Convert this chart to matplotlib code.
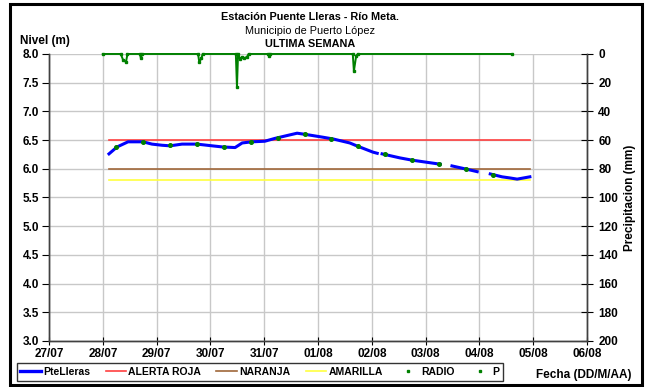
import numpy as np
import pandas as pd
import matplotlib
matplotlib.use("Agg")
import matplotlib.pyplot as plt
import matplotlib.dates as mdates
from matplotlib.lines import Line2D
from matplotlib.patches import Rectangle

plt.rcParams['font.family'] = ['Liberation Sans', 'DejaVu Sans']

# === DATA ===
level_time = ["07-28 02:45", "07-28 06:20", "07-28 11:15", "07-28 17:55", "07-28 21:55",
              "07-29 02:25", "07-29 06:00", "07-29 11:20", "07-29 18:00", "07-30 00:45",
              "07-30 05:30", "07-30 11:00", "07-30 14:10", "07-30 18:30", "07-31 00:15",
              "07-31 04:50", "07-31 14:40", "07-31 18:15", "08-01 02:10", "08-01 06:40",
              "08-01 14:10", "08-01 17:15", "08-02 00:30", "08-02 02:25", "08-02 03:30",
              "08-02 04:35", "08-02 12:30", "08-02 18:00", "08-03 06:30", "08-03 08:00",
              "08-03 11:45", "08-03 17:30", "08-03 23:00", "08-04 02:00", "08-04 04:50",
              "08-04 10:05", "08-04 13:40", "08-04 16:50", "08-04 22:30"]
level_val = [6.26, 6.38, 6.47, 6.47, 6.43,
             6.41, 6.40, 6.43, 6.43, 6.40,
             6.38, 6.37, 6.45, 6.47, 6.48,
             6.53, 6.62, 6.60, 6.55, 6.52,
             6.45, 6.40, 6.29, 6.27, np.nan,
             6.26, 6.19, 6.15, 6.08, np.nan,
             6.05, 6.00, 5.95, np.nan, 5.91,
             5.86, 5.84, 5.82, 5.86]

radio_time = ["07-28 06:00", "07-28 18:00", "07-29 06:00", "07-29 18:00", "07-30 06:00",
              "07-30 18:00", "07-31 06:00", "07-31 18:00", "08-01 06:00", "08-01 18:00",
              "08-02 06:00", "08-02 18:00", "08-03 06:00", "08-03 18:00", "08-04 06:00"]
radio_val = [6.38, 6.47, 6.41, 6.43, 6.38,
             6.46, 6.53, 6.61, 6.52, 6.40,
             6.26, 6.15, 6.08, 6.00, 5.89]

p_time = ["07-28 00:00", "07-28 08:00", "07-28 09:00", "07-28 10:20", "07-28 11:00",
          "07-28 16:30", "07-28 17:00", "07-28 17:30", "07-29 18:30", "07-29 19:00",
          "07-29 20:00", "07-29 20:30", "07-30 11:20", "07-30 11:50", "07-30 12:20",
          "07-30 13:10", "07-30 14:10", "07-30 15:00", "07-30 16:20", "07-30 17:00",
          "07-31 01:40", "07-31 02:10", "07-31 02:40", "08-01 15:30", "08-01 16:00",
          "08-01 17:00", "08-01 17:40", "08-04 14:30"]
p_val = [0, 0, 4, 5.6, 0,
         0, 3, 0, 0, 5.6,
         3, 0, 0, 23, 0,
         3.3, 2, 3, 2, 0,
         0, 1.4, 0, 0, 12,
         1.5, 0, 0]

ALERTA_ROJA = 6.5
NARANJA = 6.0
AMARILLA = 5.8

date_ticks = ["07-27", "07-28", "07-29", "07-30", "07-31", "08-01",
              "08-02", "08-03", "08-04", "08-05", "08-06"]

def to_dt(lst):
    return pd.to_datetime(["2013-" + s for s in lst])

lt = to_dt(level_time)
rt = to_dt(radio_time)
pt = to_dt(p_time)
ticks = to_dt(date_ticks)

FS = 8.5

# === FIGURE ===
fig = plt.figure(figsize=(6.46, 3.87), dpi=100, facecolor='white')
fig.patches.append(Rectangle((0.016, 0.004), 0.978, 0.985, transform=fig.transFigure,
                             fill=False, edgecolor='black', linewidth=2.2, zorder=0))
ax = fig.add_axes([0.0759, 0.1189, 0.8328, 0.7416])
ax2 = ax.twinx()

# thresholds
x_rng = [lt[0], lt[-1]]
ax.plot(x_rng, [ALERTA_ROJA] * 2, color='#ff4040', lw=1.2, zorder=3)
ax.plot(x_rng, [NARANJA] * 2, color='#a0673a', lw=1.2, zorder=3)
ax.plot(x_rng, [AMARILLA] * 2, color='#ffff40', lw=1.2, zorder=3)

ax.plot(lt, level_val, color='#0000ff', lw=2.2, zorder=4)
ax.plot(rt, radio_val, ls='none', marker='o', ms=2.6, color='#008000', zorder=5)

ax2.plot(pt, p_val, color='#008000', lw=1.4, marker='s', ms=1.8, zorder=3, clip_on=False)

ax.set_ylim(3.0, 8.0)
ax.set_yticks(np.arange(3.0, 8.01, 0.5))
ax.yaxis.set_major_formatter(plt.FormatStrFormatter('%.1f'))
ax.set_xlim(ticks[0], ticks[-1])
ax.set_xticks(ticks)
ax.xaxis.set_major_formatter(mdates.DateFormatter('%d/%m'))
ax.grid(True, color='#c8c8c8', lw=1.0)
ax2.set_ylim(200, 0)
ax2.set_yticks(np.arange(0, 201, 20))

for a in (ax, ax2):
    a.spines['top'].set_visible(False)
    for s in ('left', 'right', 'bottom'):
        a.spines[s].set_color('#404040')
        a.spines[s].set_linewidth(1.0)
ax.tick_params(axis='y', direction='out', length=5, labelsize=FS, pad=2)
ax.tick_params(axis='x', direction='inout', length=6, labelsize=FS, pad=2)
ax2.tick_params(axis='y', direction='inout', length=8, labelsize=FS, pad=4)
for lab in ax.get_xticklabels() + ax.get_yticklabels() + ax2.get_yticklabels():
    lab.set_fontweight('bold')

ax2.set_ylabel('Precipitacion (mm)', fontsize=FS, fontweight='bold', labelpad=4)

# titles
fig.text(0.48, 0.955, 'Estación Puente Lleras - Río Meta.', ha='center', va='center',
         fontsize=7.8, fontweight='bold')
fig.text(0.48, 0.92, 'Municipio de Puerto López', ha='center', va='center', fontsize=7.8)
fig.text(0.48, 0.886, 'ULTIMA SEMANA', ha='center', va='center', fontsize=7.8,
         fontweight='bold')
fig.text(0.031, 0.895, 'Nivel (m)', ha='left', va='center', fontsize=FS, fontweight='bold')
fig.text(0.978, 0.03, 'Fecha (DD/M/AA)', ha='right', va='center', fontsize=FS,
         fontweight='bold')

handles = [Line2D([], [], color='#0000ff', lw=2.4),
           Line2D([], [], color='#ff4040', lw=1.2),
           Line2D([], [], color='#a0673a', lw=1.2),
           Line2D([], [], color='#ffff40', lw=1.2),
           Line2D([], [], ls='none', marker='s', ms=2, color='#008000'),
           Line2D([], [], ls='none', marker='s', ms=2, color='#008000')]
labels = ['PteLleras', 'ALERTA ROJA', 'NARANJA', 'AMARILLA', 'RADIO', 'P']
leg = fig.legend(handles, labels, loc='lower left', bbox_to_anchor=(0.018, 0.003),
                 ncol=6, frameon=True, fancybox=False, edgecolor='black',
                 handlelength=2.0, handletextpad=0.2, columnspacing=1.45,
                 borderpad=0.35, prop={'weight': 'bold', 'size': 7.5})
leg.get_frame().set_linewidth(1.0)

fig.savefig('out.png', dpi=100, facecolor='white')
